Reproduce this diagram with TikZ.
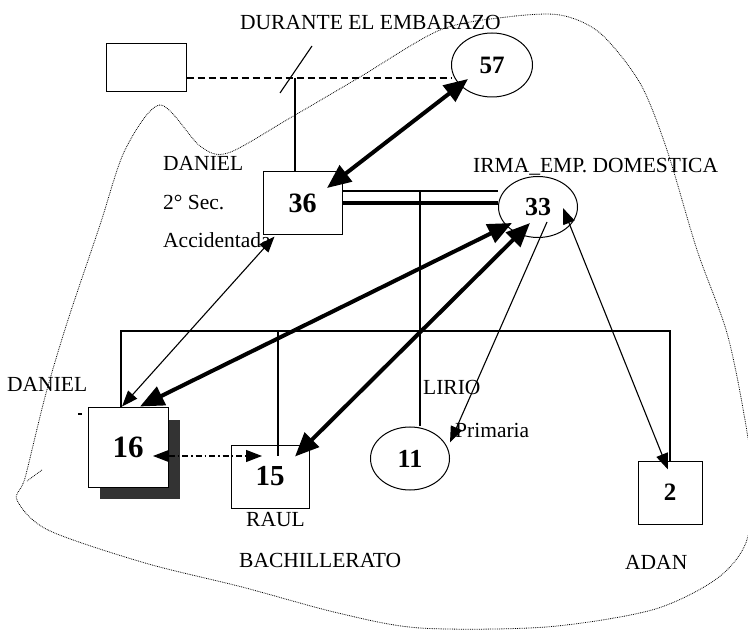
\documentclass[tikz,border=0pt]{standalone}
\usepackage{fontspec}
\setmainfont{Liberation Serif}
\usetikzlibrary{arrows.meta,shapes.geometric,shadows,calc}

\begin{document}
\begin{tikzpicture}[x=1pt, y=-1pt,
    caja/.style={draw, line width=1pt, fill=white, inner sep=0pt},
    ovalo/.style={draw, ellipse, line width=1pt, inner sep=0pt},
    num/.style={font=\fontsize{#1}{#1}\selectfont\bfseries},
    etiqueta/.style={anchor=west, inner sep=0pt, font=\fontsize{21.5}{26}\selectfont},
    gruesa/.style={line width=4pt, {Triangle[length=24pt,width=20pt]}-{Triangle[length=24pt,width=20pt]}},
    fina/.style={line width=1.1pt, >={Triangle[length=16pt,width=12pt]}},
    frontera/.style={densely dotted, line width=0.8pt}]
    \useasboundingbox (0,0) rectangle (748,631);

    % hogar
    \draw[frontera] plot[smooth cycle] coordinates {(17,500) (48,530) (145,563) (242,587) (338,613)
        (420,628) (546,627) (652,610) (715,580) (745,545) (754,490) (745,420) (727,333) (697,250)
        (667,150) (640,83) (600,33) (560,15) (507,17) (440,30) (360,77) (290,118) (228,153)
        (200,146) (160,105) (125,150) (100,225) (67,323) (45,397) (25,478)};
    \draw[frontera] (42,470) -- (27,481);

    \node[caja, minimum width=80pt, minimum height=48pt] (abuelo) at (146,68) {};
    \node[ovalo, minimum width=81pt, minimum height=64pt, num=25] (abuela) at (492,65) {57};
    \node[caja, minimum width=79pt, minimum height=63pt, num=28] (padre) at (302.5,203.5) {36};
    \node[ovalo, minimum width=79pt, minimum height=61pt, num=26] (madre) at (538,207) {33};
    \node[caja, minimum width=80pt, minimum height=79pt, num=31,
        drop shadow={shadow xshift=12pt, shadow yshift=-12pt, fill=black!80, opacity=1}] (hijo16) at (128,447.5) {16};
    \node[caja, minimum width=78pt, minimum height=63pt, num=29] (hijo15) at (270,476.5) {15};
    \node[ovalo, minimum width=79pt, minimum height=63pt, num=26] (hija11) at (410,458.5) {11};
    \node[caja, minimum width=64pt, minimum height=63pt, num=25] (hijo2) at (670,492.5) {2};

    \node[etiqueta] (durante) at (240,22) {DURANTE EL EMBARAZO};
    \node[etiqueta] (daniel) at (163,163) {DANIEL};
    \node[etiqueta] (sec) at (163,203) {2° Sec.};
    \node[etiqueta] (accid) at (163,240) {Accidentada};
    \node[etiqueta] (irma) at (473,167) {IRMA\_EMP. DOMESTICA};
    \node[etiqueta] (danielh) at (7,384) {DANIEL};
    \node[etiqueta] (lirio) at (423,387) {LIRIO};
    \node[etiqueta] (primaria) at (455,430) {Primaria};
    \node[etiqueta] (raul) at (246,520) {RAUL};
    \node[etiqueta] (bach) at (239,560) {BACHILLERATO};
    \node[etiqueta] (adan) at (625,562) {ADAN};

    \coordinate (union) at (295,78);
    \coordinate (hijos) at (420,191);
    \coordinate (h1) at (121,331);
    \coordinate (h2) at (278,331);
    \coordinate (h4) at (670,331);

    % lineas de familia
    \draw[dash pattern=on 7pt off 4pt, line width=1.1pt] (abuelo.east |- union) -- (union -| abuela.west);
    \draw[line width=1.1pt] (280,93) -- (312,46);
    \draw[line width=1.1pt] (union) -- (union |- padre.north);
    \draw[line width=1.1pt] (padre.east |- hijos) -- (hijos -| madre.west);
    \draw[line width=4pt] (padre.east) -- (padre.east -| madre.west);
    \draw[line width=1.1pt] (hijos) -- (hijos |- hija11.north);
    \draw[line width=1.1pt] (h1 |- hijo16.north) -- (h1) -- (h4) -- (h4 |- hijo2.north);
    \draw[line width=1.1pt] (h2) -- ($(h2 |- hijo15.north)+(0,11)$);
    \fill (78,413) rectangle (82,415);

    % relaciones
    \draw[gruesa] ($(abuela)+(-24,14)$) -- ($(padre)+(24.5,-15.5)$);
    \draw[gruesa] ($(madre)+(-26,16)$) -- ($(hijo16.north)+(12,-1)$);
    \draw[gruesa] ($(madre)+(-8,16)$) -- ($(hijo15.north)+(25,12)$);
    \draw[fina, <->] ($(padre.south west)+(12,1)$) -- ($(hijo16.north)+(-6,-1)$);
    \draw[fina, ->] ($(madre)+(9,15)$) -- ($(hija11)+(40,-16)$);
    \draw[fina, <->] ($(madre)+(25,1)$) -- ($(hijo2.north)+(-2,9)$);
    \draw[fina, <->, dash pattern=on 6pt off 3pt on 1.5pt off 3pt] ($(hijo16)+(25,8.5)$) -- ($(hijo15)+(-8,-20.5)$);
\end{tikzpicture}
\end{document}
